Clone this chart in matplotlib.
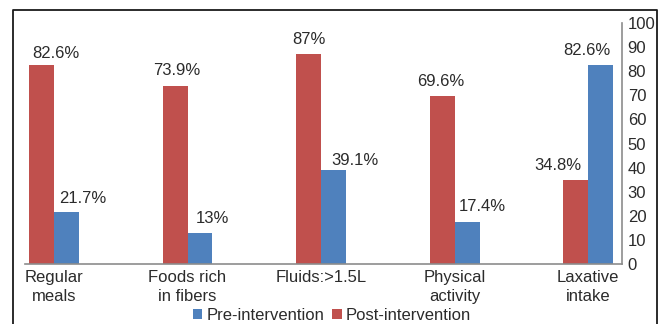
import matplotlib.pyplot as plt
import numpy as np
from matplotlib.lines import Line2D

plt.rcParams['font.family'] = ['Liberation Sans', 'DejaVu Sans']

categories = ['Regular\nmeals', 'Foods rich\nin fibers', 'Fluids:>1.5L', 'Physical\nactivity', 'Laxative\nintake']
pre_values = [21.7, 13, 39.1, 17.4, 82.6]
post_values = [82.6, 73.9, 87, 69.6, 34.8]

# hand-placed label nudges (pixels) for each bar
post_dx = [14.5, 2, 0, -1, -18]
pre_dx = [16, 12, 21, 15, -14]
post_dy = [7, 11, 10, 10, 10]
pre_dy = [9, 10, 5, 11, 10]

red = '#C0504D'
blue = '#4F81BD'
text_col = '#2b2b2b'
axis_col = '#8C8C8C'
fs = 12

fig = plt.figure(figsize=(6.62, 3.24), dpi=100)
ax = fig.add_axes([25 / 662, 60 / 324, 596.5 / 662, 241 / 324])

x = np.arange(len(categories))
w = 0.187
b_post = ax.bar(x - w / 2, post_values, w, color=red, label='Post-intervention')
b_pre = ax.bar(x + w / 2, pre_values, w, color=blue, label='Pre-intervention')

px = 72 / 100
for bars, vals, dxs, dys in [(b_post, post_values, post_dx, post_dy), (b_pre, pre_values, pre_dx, pre_dy)]:
    for bar, v, dx, dy in zip(bars, vals, dxs, dys):
        ax.annotate(f'{v:g}%', (bar.get_x() + bar.get_width() / 2, v),
                    xytext=(dx * px, dy * px), textcoords='offset points',
                    ha='center', va='baseline', fontsize=fs, color=text_col)

ax.set_xlim(-0.217, 4.25)
ax.set_ylim(0, 100)
ax.set_yticks(np.arange(0, 101, 10))
ax.yaxis.tick_right()
ax.set_xticks(x)
ax.set_xticklabels(categories, linespacing=1.4)
ax.tick_params(axis='both', length=0, labelsize=fs, labelcolor=text_col)
ax.tick_params(axis='y', pad=4.5)
ax.tick_params(axis='x', pad=4)

for s in ['left', 'top']:
    ax.spines[s].set_visible(False)
for s in ['right', 'bottom']:
    ax.spines[s].set_color(axis_col)
    ax.spines[s].set_linewidth(1.2)

handles = [b_pre, b_post]
fig.legend(handles, ['Pre-intervention', 'Post-intervention'], loc='center',
           bbox_to_anchor=(332 / 662, 1 - 315 / 324), ncol=2, frameon=False,
           fontsize=fs, labelcolor=text_col, handlelength=0.55, handleheight=0.55,
           handletextpad=0.25, columnspacing=0.5, borderpad=0)

# outer frame
fx0, fx1, fy1 = 12.5 / 662, 657 / 662, 1 - 10 / 324
fig.add_artist(Line2D([fx0, fx0, fx1, fx1], [0, fy1, fy1, 0],
                      transform=fig.transFigure, color='#1a1a1a', linewidth=1.3))

fig.savefig('out.png', dpi=100)
